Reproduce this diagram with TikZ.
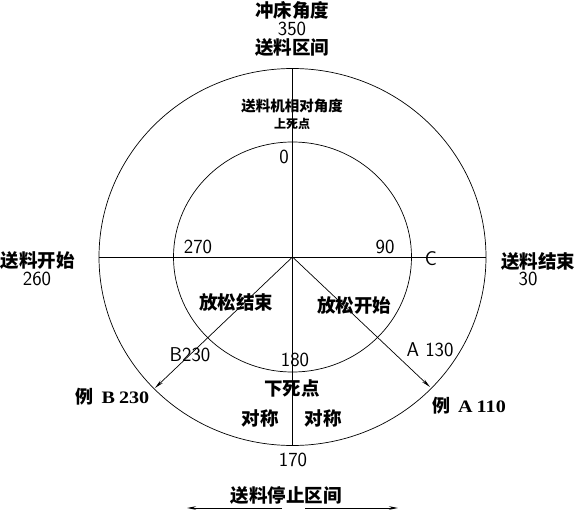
\documentclass[tikz,border=0pt]{standalone}
\usepackage{fontspec}
\newfontfamily\cjk{Noto Sans CJK SC}
\newfontfamily\latb{Liberation Serif}[FakeStretch=1.15]
\usetikzlibrary{arrows.meta}
\tikzset{
  cj/.style={inner sep=0pt,text height=15.5pt,text depth=1.5pt,font=\cjk\bfseries\fontsize{18.5}{20}\selectfont},
  cjs/.style={inner sep=0pt,text height=12.2pt,text depth=1.2pt,font=\cjk\bfseries\fontsize{14.5}{16}\selectfont},
  cjt/.style={inner sep=0pt,text height=10pt,text depth=1pt,font=\cjk\bfseries\fontsize{12}{13}\selectfont},
  num/.style={inner sep=0pt,text height=13.7pt,text depth=0pt,font=\sffamily\fontsize{20}{22}\selectfont},
  ex/.style={inner sep=0pt,text height=15pt,text depth=1.4pt,font=\latb\bfseries\fontsize{17.5}{20}\selectfont},
  ln/.style={line width=0.7pt},
  arr/.style={ln,-{Stealth[length=9pt,width=3.5pt]}}
}
\begin{document}
\begin{tikzpicture}[x=1pt,y=-1pt]
\useasboundingbox (0,0) rectangle (576,511);
\coordinate (O) at (292.5,257);
\coordinate (Lh) at (99,257);
\coordinate (Rh) at (486,257);
\coordinate (Tv) at (292.5,68.5);
\coordinate (Bv) at (292.5,445.5);
\coordinate (tipB) at (155,388);
\coordinate (tipA) at (430,387);
\coordinate (s1) at (282,508);
\coordinate (s0) at (187,508);
\coordinate (s2) at (305,508);
\coordinate (s3) at (398,508);
% circles
\draw[ln] (O) ellipse [x radius=193.5pt, y radius=188.5pt];
\draw[ln] (O) ellipse [x radius=119pt, y radius=115pt];
% axes
\draw[ln] (Lh) -- (Rh);
\draw[ln] (Tv) -- (Bv);
% diagonal arrows
\draw[arr] (O) -- (tipB);
\draw[arr] (O) -- (tipA);
% bottom arrows
\draw[arr] (s1) -- (s0);
\draw[arr] (s2) -- (s3);
% texts
\node[cj] (t1) at (292,10.5) {冲床角度};
\node[num] (t2) at (292,29) {350};
\node[cj] (t3) at (292,48) {送料区间};
\node[cjs] (t4) at (292,106) {送料机相对角度};
\node[cjt] (t5) at (292,124) {上死点};
\node[num] (t6) at (284,157) {0};
\node[num] (t7) at (198,246.5) {270};
\node[num] (t8) at (385,246.5) {90};
\node[num] (t9) at (431,258.5) {C};
\node[cj] (t10) at (38,260) {送料开始};
\node[num] (t11) at (37,279) {260};
\node[cj] (t12) at (538,261) {送料结束};
\node[num] (t13) at (528,279) {30};
\node[cj] (t14) at (236,302) {放松结束};
\node[cj] (t15) at (354,305) {放松开始};
\node[num] (t16) at (190,355) {B230};
\node[num] (t17) at (430,350) {A 130};
\node[num] (t18) at (295,360) {180};
\node[cj] (t19) at (292,388) {下死点};
\node[cj] (t20) at (260,418) {对称};
\node[cj] (t21) at (323,418) {对称};
\node[num] (t22) at (293,460) {170};
\node[cj] (t23) at (286,495) {送料停止区间};
\node[ex] (t24) at (112.5,397) {{\cjk\fontsize{18}{20}\selectfont 例}\hspace{8pt}B\hspace{4pt}230};
\node[ex] (t25) at (469,406) {{\cjk\fontsize{18}{20}\selectfont 例}\hspace{8pt}A\hspace{4pt}110};
\end{tikzpicture}
\end{document}
